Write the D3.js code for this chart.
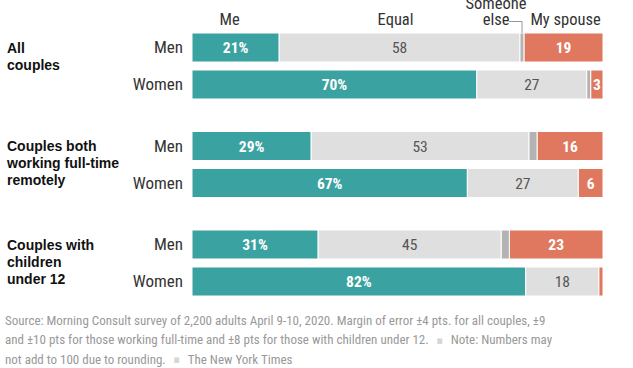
<!DOCTYPE html>
<html><head><meta charset="utf-8">
<script src="https://cdn.jsdelivr.net/npm/d3@7"></script>
<style>
html,body{margin:0;padding:0;background:#fff;}
text{font-family:"Liberation Sans Narrow","Roboto Condensed","DejaVu Sans Condensed",Arial,sans-serif;}
text.grp{font-family:"Liberation Sans",Arial,sans-serif;}
</style></head>
<body><svg id="c" width="633" height="368"></svg>
<script>
const groups = [["All","couples"],["Couples both","working full-time","remotely"],["Couples with","children","under 12"]];
const rows = ["Men","Women"];
const categories = ["Me","Equal","Someone else","My spouse"];
const me      = [21, 70, 29, 67, 31, 82];
const equal   = [58, 27, 53, 27, 45, 18];
const someone = [1, 1, 2, 0, 2, 0];
const spouse  = [19, 3, 16, 6, 23, 1];
const footLines = [
  ["Source: Morning Consult survey of 2,200 adults April 9-10, 2020. Margin of error \u00b14 pts. for all couples, \u00b19"],
  ["and \u00b110 pts for those working full-time and \u00b18 pts for those with children under 12.", "Note: Numbers may"],
  ["not add to 100 due to rounding.", "The New York Times"]
];

const colors = ["#3aa2a0","#dfdfdf","#b3b3b3","#e0775f"];
const svg = d3.select("#c");
const x0 = 192, x1 = 603;
const barH = 29, rowGap = 37, groupPitch = 98.5, top0 = 33;

const data = me.map((v,i)=>({i, g:Math.floor(i/2), r:i%2, vals:[v,equal[i],someone[i],spouse[i]]}));
const yOf = d => top0 + d.g*groupPitch + d.r*rowGap;

data.forEach(d=>{
  const total = d3.sum(d.vals);
  const xs = d3.scaleLinear().domain([0,total]).range([x0,x1]);
  let cum = 0;
  const segs = d.vals.map((v,k)=>{const s={k,v,a:cum,b:cum+v}; cum+=v; return s;});
  d.segs = segs; d.xs = xs;
  const g = svg.append("g");
  g.selectAll("rect").data(segs.filter(s=>s.v>0)).join("rect")
    .attr("x",s=>xs(s.a)).attr("width",s=>Math.max(0,xs(s.b)-xs(s.a)))
    .attr("y",yOf(d)).attr("height",barH)
    .attr("fill",s=>colors[s.k]).attr("stroke","#fff").attr("stroke-width",1);
  g.selectAll("text").data(segs.filter(s=>s.k!==2 && s.v>=3)).join("text")
    .attr("x",s=>(xs(s.a)+xs(s.b))/2).attr("y",yOf(d)+barH/2+5.5)
    .attr("text-anchor","middle").attr("font-size",15.5)
    .attr("font-weight",s=>s.k===1?"normal":"bold")
    .attr("fill",s=>s.k===1?"#555":"#fff")
    .text(s=>s.k===0?s.v+"%":s.v);
  svg.append("text").attr("x",183).attr("y",yOf(d)+barH/2+5.5)
    .attr("text-anchor","end").attr("font-size",17).attr("fill","#333").text(rows[d.r]);
});

// group labels
const glTop = [53, 150.5, 250];
groups.forEach((lines,gi)=>{
  const t = svg.append("text").attr("class","grp").attr("font-size",14).attr("font-weight","bold").attr("fill","#111");
  lines.forEach((l,li)=>t.append("tspan").attr("x",7).attr("y",glTop[gi]+li*17).text(l));
});

// header labels based on first row
const d0 = data[0], s0 = d0.segs, xs0 = d0.xs;
const hs = 16.5;
svg.append("text").attr("x",(xs0(s0[0].a)+xs0(s0[0].b))/2-6).attr("y",25).attr("text-anchor","middle")
  .attr("font-size",hs).attr("fill","#333").text(categories[0]);
svg.append("text").attr("x",(xs0(s0[1].a)+xs0(s0[1].b))/2-4).attr("y",25).attr("text-anchor","middle")
  .attr("font-size",hs).attr("fill","#333").text(categories[1]);
svg.append("text").attr("x",(xs0(s0[3].a)+xs0(s0[3].b))/2+2).attr("y",25).attr("text-anchor","middle")
  .attr("font-size",hs).attr("fill","#333").text(categories[3]);
const seX = (xs0(s0[2].a)+xs0(s0[2].b))/2;
const se = svg.append("text").attr("font-size",hs).attr("fill","#333").attr("text-anchor","middle");
const seWords = categories[2].split(" ");
se.append("tspan").attr("x",seX-26).attr("y",9).text(seWords[0]);
se.append("tspan").attr("x",seX-26).attr("y",25).text(seWords[1]);
svg.append("path").attr("d",`M${seX-13},21.5H${seX}V${top0}`).attr("fill","none").attr("stroke","#999").attr("stroke-width",1);

// footnote
footLines.forEach((parts,i)=>{
  const t = svg.append("text").attr("x",5).attr("y",325+i*19.3).attr("font-size",13).attr("fill","#999");
  parts.forEach((p,pi)=>{
    if(pi>0) t.append("tspan").attr("fill","#d6d6d6").attr("font-size",7).attr("dx",8).attr("dy",-1.5).text("\u25a0");
    t.append("tspan").attr("dx",pi>0?8:0).attr("dy",pi>0?1.5:0).text(p);
  });
});
</script></body></html>
